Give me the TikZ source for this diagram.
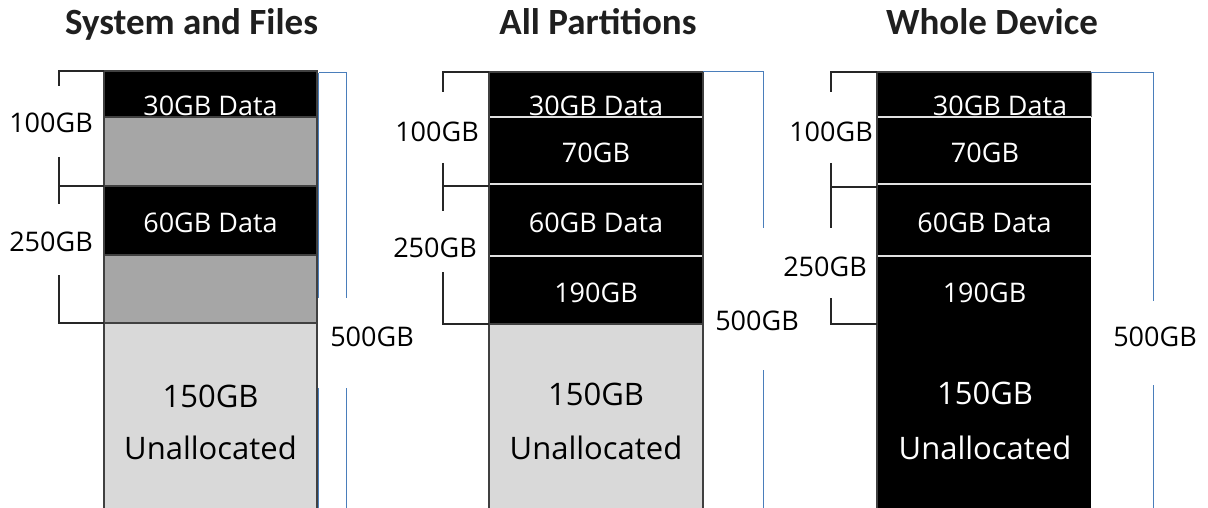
\documentclass[tikz,border=0pt]{standalone}
\usepackage{fontspec}
\newfontfamily\lblfont{Open Sans}
\newfontfamily\ttlfont{Carlito}
\definecolor{bl}{HTML}{4A7EBB}
\definecolor{midgray}{HTML}{A6A6A6}
\definecolor{lightgray}{HTML}{D9D9D9}
\definecolor{edge}{HTML}{404040}
\tikzset{
  small/.style={font=\lblfont\fontsize{27}{27}\selectfont, anchor=base, inner sep=0pt},
  big/.style={font=\lblfont\fontsize{31}{31}\selectfont, anchor=base, inner sep=0pt},
  ttl/.style={font=\ttlfont\bfseries\fontsize{37}{37}\selectfont, anchor=base, inner sep=0pt, text=black!88},
  wtext/.style={text=white},
  brk/.style={line width=1.2pt, draw=black!85},
  bluebrk/.style={line width=1pt, draw=bl},
  outl/.style={draw=edge, line width=1.4pt},
  wsep/.style={draw=white!88!black, line width=1.2pt}
}
\begin{document}
\begin{tikzpicture}[x=1pt,y=-1pt]
\useasboundingbox (0,0) rectangle (1208,508);

% ---------- titles
\node[ttl] (t1) at (191.5,35) {System and Files};
\node[ttl] (t2) at (598,35) {All Partitions};
\node[ttl] (t3) at (992,35) {Whole Device};

% ---------- panel 1
\fill[black] (104,71) rectangle (317,117);
\fill[midgray] (104,117) rectangle (317,186);
\fill[black] (104,186) rectangle (317,255);
\fill[midgray] (104,255) rectangle (317,323);
\fill[lightgray] (104,323) rectangle (317,508);
\draw[outl] (104,508) -- (104,71) -- (317,71) -- (317,508);
\draw[outl] (104,117) -- (317,117) (104,186) -- (317,186) (104,255) -- (317,255) (104,323) -- (317,323);
\node[small,wtext] (p1a) at (210.5,115.6) {30GB Data};
\node[small,wtext] (p1b) at (210.5,232.6) {60GB Data};
\node[big] (p1c) at (210.5,407) {150GB};
\node[big] (p1d) at (210.5,459) {Unallocated};
% left brackets
\draw[brk] (59,86) -- (59,71) -- (104,71);
\draw[brk] (59,157) -- (59,204) (59,186) -- (104,186);
\draw[brk] (59,275) -- (59,323) -- (104,323);
\node[small] (p1l1) at (51,132.6) {100GB};
\node[small] (p1l2) at (51,251.6) {250GB};
% right bracket
\draw[bluebrk] (318.5,73) -- (346,73) -- (346,298);
\draw[bluebrk] (346,388) -- (346,508);
\draw[bluebrk] (318.8,73) -- (318.8,298) (318.8,388) -- (318.8,508);
\node[small] (p1r) at (372,346.6) {500GB};

% ---------- panel 2
\fill[black] (489,72) rectangle (703,324);
\fill[lightgray] (489,324) rectangle (703,508);
\draw[wsep] (489,117) -- (703,117) (489,184) -- (703,184) (489,256) -- (703,256);
\draw[outl] (489,508) -- (489,72) -- (703,72) -- (703,508);
\draw[outl] (489,324) -- (703,324);
\node[small,wtext] (p2a) at (596,115.1) {30GB Data};
\node[small,wtext] (p2b) at (596,162.1) {70GB};
\node[small,wtext] (p2c) at (596,232.1) {60GB Data};
\node[small,wtext] (p2d) at (596,302.6) {190GB};
\node[big] (p2e) at (596,405) {150GB};
\node[big] (p2f) at (596,459) {Unallocated};
\draw[brk] (443,92) -- (443,72) -- (489,72);
\draw[brk] (443,163) -- (443,211) (443,186) -- (489,186);
\draw[brk] (443,272) -- (443,324) -- (489,324);
\node[small] (p2l1) at (437,141.6) {100GB};
\node[small] (p2l2) at (435,257.6) {250GB};
\draw[bluebrk] (703,72) -- (763,72) -- (763,228);
\draw[bluebrk] (763,370) -- (763,508);
\node[small] (p2r) at (757,330.6) {500GB};

% ---------- panel 3
\fill[black] (877,72) rectangle (1091,508);
\draw[wsep] (877,117) -- (1091,117) (877,184) -- (1091,184) (877,256) -- (1091,256);
\draw[outl] (877,508) -- (877,72) -- (1091,72);
\draw[draw=black!60, line width=0.8pt] (1091,72) -- (1091,117);
\node[small,wtext] (p3a) at (1000,115.6) {30GB Data};
\node[small,wtext] (p3b) at (985,162.1) {70GB};
\node[small,wtext] (p3c) at (984.5,232.1) {60GB Data};
\node[small,wtext] (p3d) at (984.5,302.6) {190GB};
\node[big,wtext] (p3e) at (985,404) {150GB};
\node[big,wtext] (p3f) at (985,459) {Unallocated};
\draw[brk] (831,92) -- (831,72) -- (877,72);
\draw[brk] (831,163) -- (831,228) (831,187) -- (877,187);
\draw[brk] (831,298) -- (831,324) -- (877,324);
\node[small] (p3l1) at (831,141.6) {100GB};
\node[small] (p3l2) at (825,276.6) {250GB};
\draw[bluebrk] (1091,73) -- (1153,73) -- (1153,301);
\draw[bluebrk] (1153,385) -- (1153,508);
\node[small] (p3r) at (1155,346.6) {500GB};
\end{tikzpicture}
\end{document}
